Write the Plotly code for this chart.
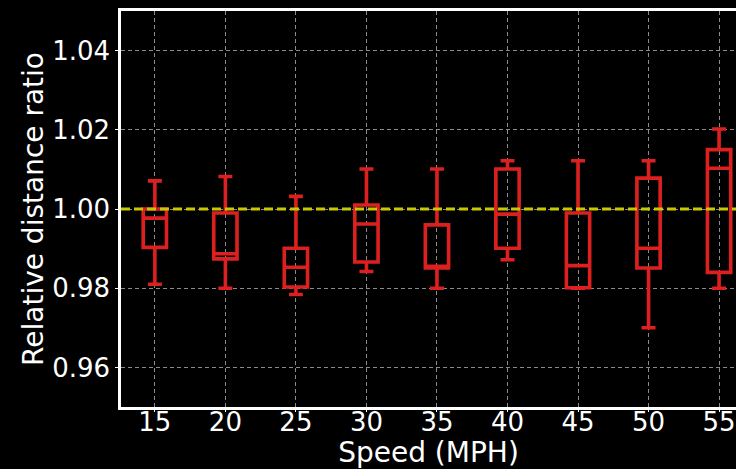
import plotly.graph_objects as go

# Speed categories and box statistics of the relative distance ratio
speeds = ["15", "20", "25", "30", "35", "40", "45", "50", "55"]
lower_fence = [0.981, 0.980, 0.9784, 0.9842, 0.980, 0.9872, 0.980, 0.970, 0.980]
q1 = [0.9903, 0.9874, 0.9803, 0.9866, 0.9851, 0.9901, 0.9801, 0.9851, 0.984]
median = [0.9977, 0.9887, 0.9853, 0.9962, 0.9855, 0.9987, 0.9857, 0.9901, 1.0103]
q3 = [1.000, 0.999, 0.9901, 1.001, 0.996, 1.0101, 0.999, 1.0078, 1.015]
upper_fence = [1.0071, 1.0082, 1.0032, 1.0101, 1.0101, 1.0122, 1.0122, 1.0122, 1.0202]
y_ticks = [0.96, 0.98, 1.00, 1.02, 1.04]
reference_ratio = 1.0

RED = "#dc2020"
FONT = "DejaVu Sans"

fig = go.Figure()
fig.add_trace(go.Box(
    x=speeds,
    q1=q1,
    median=median,
    q3=q3,
    lowerfence=lower_fence,
    upperfence=upper_fence,
    width=0.33,
    whiskerwidth=0.6,
    line=dict(color=RED, width=3.6),
    fillcolor="rgba(0,0,0,0)",
    boxpoints=False,
    showlegend=False,
    hoverinfo="skip",
))

# Reference line at ratio 1.0
fig.add_shape(
    type="line", xref="paper", x0=0, x1=1, yref="y",
    y0=reference_ratio, y1=reference_ratio,
    line=dict(color="#c8c800", width=3, dash="9px,4px"),
    layer="above",
)

fig.update_layout(
    width=736, height=469,
    margin=dict(l=121, r=0, t=11, b=62, autoexpand=False),
    paper_bgcolor="black",
    plot_bgcolor="black",
    font=dict(family=FONT, color="white", size=26),
)
fig.update_xaxes(
    type="category",
    range=[-0.48, 8.24],
    automargin=False,
    showline=True, linecolor="white", linewidth=2.5, mirror=True,
    showgrid=True, gridcolor="#8a8a8a", gridwidth=1, griddash="4px,3px",
    ticks="outside", ticklen=2, tickcolor="white",
    ticklabelstandoff=-12,
    tickfont=dict(size=26, color="white"),
    title=dict(text="Speed (MPH)", font=dict(size=28, color="white"), standoff=10),
    zeroline=False,
)
fig.update_yaxes(
    range=[0.95, 1.05],
    automargin=False,
    tickvals=y_ticks,
    ticktext=[f"{v:.2f}" for v in y_ticks],
    showline=True, linecolor="white", linewidth=2.5,
    showgrid=True, gridcolor="#8a8a8a", gridwidth=1, griddash="4px,3px",
    ticks="outside", ticklen=3, tickcolor="white",
    tickfont=dict(size=26, color="white"),
    title=dict(text="Relative distance ratio", font=dict(size=28, color="white"), standoff=1),
    zeroline=False,
)

fig.write_html("out.html")
